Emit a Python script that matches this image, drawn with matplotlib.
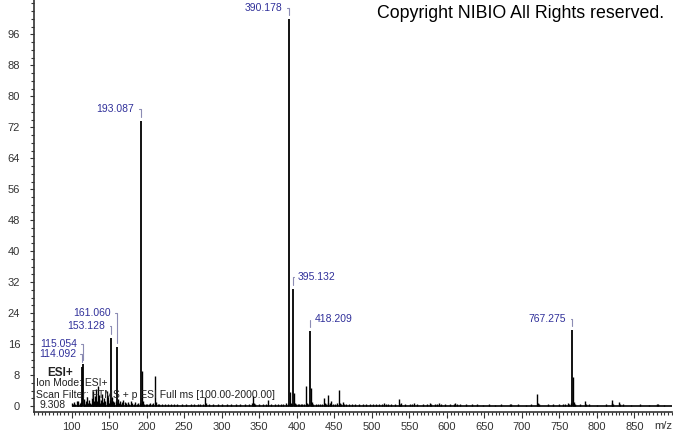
import matplotlib.pyplot as plt
from matplotlib.ticker import MultipleLocator

plt.rcParams['font.family'] = ['Liberation Sans', 'DejaVu Sans']

# labelled peaks (m/z, relative abundance)
label_mz = [114.092, 115.054, 153.128, 161.060, 193.087, 390.178, 395.132, 418.209, 767.275]
label_int = [10.2, 10.8, 17.5, 15.3, 73.6, 100.0, 30.2, 19.4, 19.6]
label_txt = ['114.092', '115.054', '153.128', '161.060', '193.087', '390.178', '395.132', '418.209', '767.275']

# unlabelled peaks
peak_mz = [101.1, 102.5, 103.9, 105.1, 107.0, 108.2, 109.1, 111.0, 112.1, 113.0,
           116.1, 117.0, 118.1, 119.0, 121.1, 122.0, 123.0, 125.1, 126.0, 127.1,
           128.0, 129.1, 130.1, 131.0, 132.1, 133.1, 134.0, 135.1, 136.0, 137.1,
           138.0, 139.1, 141.0, 142.1, 143.1, 144.0, 145.1, 147.1, 148.0, 149.1,
           150.0, 151.1, 152.1, 154.1, 155.1, 156.0, 157.1, 159.1, 160.0, 162.1,
           163.1, 165.1, 166.0, 167.1, 169.1, 171.1, 172.0, 173.1, 175.1, 177.1,
           179.1, 181.1, 183.1, 185.1, 187.1, 189.1, 191.1, 192.0, 194.09, 195.1,
           197.1, 199.1, 201.1, 203.1, 205.1, 207.1, 209.1, 211.2, 212.2, 215.1,
           217.1, 221.1, 225.1, 229.1, 233.1, 237.1, 241.1, 247.1, 253.1, 259.1,
           263.1, 269.1, 271.1, 275.1, 278.1, 279.1, 283.1, 289.1, 295.1, 301.1,
           307.1, 313.1, 319.1, 325.1, 331.1, 337.1, 341.1, 342.2, 343.2, 345.1,
           349.1, 355.1, 359.1, 362.1, 365.1, 371.1, 375.1, 379.1, 382.1, 386.1,
           388.1, 391.18, 392.2, 393.1, 396.13, 397.1, 399.1, 401.1, 403.1, 405.1,
           407.1, 409.1, 412.2, 413.2, 415.1, 419.21, 420.2, 422.1, 425.1, 428.1,
           431.1, 433.1, 436.1, 437.1, 439.1, 441.1, 442.1, 444.1, 446.1, 448.1,
           451.1, 453.1, 456.2, 457.2, 459.1, 461.1, 463.1, 466.0, 470.0, 474.0,
           478.0, 483.0, 488.0, 492.0, 497.0, 501.0, 505.0, 509.0, 513.0, 516.0,
           519.0, 522.0, 526.0, 531.0, 536.2, 537.2, 539.2, 544.0, 551.0, 554.0,
           556.0, 560.0, 568.0, 574.0, 577.0, 579.0, 584.0, 587.0, 589.0, 592.0,
           598.0, 604.0, 609.0, 611.0, 614.0, 618.0, 625.0, 633.0, 640.0, 648.0,
           656.0, 664.0, 672.0, 684.0, 685.5, 695.0, 705.0, 712.0, 720.5, 721.5,
           723.0, 735.0, 742.0, 749.0, 755.0, 758.0, 761.0, 763.0, 765.0, 768.28,
           769.28, 771.0, 777.0, 784.0, 785.0, 790.0, 800.0, 812.0, 819.6, 820.6,
           822.0, 829.5, 831.0, 835.0, 845.0, 857.0, 870.0, 880.0, 881.0, 890.0]
peak_int = [0.7, 0.4, 1.0, 0.5, 1.2, 0.5, 1.4, 0.8, 0.6, 1.0,
            0.9, 1.8, 0.6, 1.2, 2.2, 0.8, 1.5, 0.9, 0.5, 2.0,
            1.0, 3.8, 1.2, 2.6, 0.8, 4.5, 1.3, 5.2, 1.7, 2.8,
            0.8, 1.6, 3.2, 1.0, 2.1, 0.7, 1.3, 3.8, 0.9, 2.4,
            0.8, 1.6, 1.0, 2.2, 1.2, 0.6, 1.0, 1.4, 0.7, 1.8,
            0.8, 1.4, 0.5, 1.0, 1.6, 1.1, 0.5, 0.8, 1.0, 0.6,
            1.2, 0.8, 0.5, 1.0, 0.5, 0.7, 0.9, 0.5, 9.1, 1.2,
            0.6, 0.5, 0.6, 0.4, 0.7, 0.5, 0.9, 7.8, 1.0, 0.6,
            0.4, 0.5, 0.4, 0.6, 0.4, 0.5, 0.4, 0.5, 0.4, 0.5,
            0.4, 0.4, 0.6, 0.4, 2.4, 0.7, 0.4, 0.4, 0.4, 0.4,
            0.4, 0.4, 0.5, 0.4, 0.4, 0.5, 0.8, 2.5, 0.9, 0.6,
            0.4, 0.4, 0.5, 1.5, 0.4, 0.4, 0.4, 0.4, 0.5, 0.7,
            0.6, 3.7, 0.8, 0.5, 3.3, 0.7, 0.5, 0.4, 0.6, 0.4,
            0.5, 0.4, 5.2, 0.9, 0.5, 4.6, 1.1, 0.5, 0.4, 0.6,
            0.4, 0.5, 2.1, 0.7, 0.4, 2.8, 0.9, 0.8, 1.3, 0.4,
            0.5, 0.7, 4.1, 0.9, 0.5, 1.1, 0.6, 0.4, 0.4, 0.4,
            0.5, 0.4, 0.4, 0.4, 0.4, 0.4, 0.5, 0.4, 0.6, 0.7,
            0.5, 0.4, 0.4, 0.4, 1.7, 0.6, 0.9, 0.4, 0.4, 0.5,
            0.7, 0.4, 0.4, 0.4, 0.7, 0.5, 0.4, 0.5, 0.8, 0.4,
            0.4, 0.4, 0.4, 0.9, 0.5, 0.6, 0.4, 0.4, 0.4, 0.3,
            0.4, 0.3, 0.4, 0.5, 0.5, 0.4, 0.3, 0.4, 3.1, 0.8,
            0.4, 0.4, 0.4, 0.4, 0.5, 0.4, 0.7, 0.5, 0.8, 7.4,
            1.0, 0.4, 0.4, 1.2, 0.5, 0.4, 0.3, 0.4, 1.5, 0.7,
            0.4, 1.1, 0.5, 0.4, 0.3, 0.4, 0.3, 0.5, 0.4, 0.3]

scan_start, scan_end = 100, 900
x_ticks = list(range(100, 851, 50))
y_ticks = list(range(0, 97, 8))

# label placement, pixel offset of text from peak top
label_dx = [-6, -6, -6, -7, -7, -7, 5, 4, -6]
label_dy = [13, 20, 12, 34, 12, 10.5, 12, 12, 11.5]

W, H = 673, 433
fig = plt.figure(figsize=(W / 100, H / 100), dpi=100)
ax = fig.add_axes([34 / W, 21 / H, 638 / W, 412 / H])

ax.hlines(0, scan_start, scan_end, colors='black', lw=1.2)
ax.vlines(peak_mz, 0, peak_int, colors='black', lw=1.0)
ax.vlines(label_mz, 0, label_int, colors='black', lw=1.3)

for mz, it, txt, dx, dy in zip(label_mz, label_int, label_txt, label_dx, label_dy):
    left = dx < 0
    ax.annotate(txt, xy=(mz, it), xytext=(dx, dy), textcoords='offset pixels',
                ha='right' if left else 'left', va='center', fontsize=7.5,
                color='#30309a',
                arrowprops=dict(arrowstyle='-', color='#8c8cb4', lw=0.8,
                                connectionstyle='angle,angleA=0,angleB=90,rad=0',
                                relpos=(1, 0.5) if left else (0, 0.5),
                                shrinkA=1, shrinkB=3))

ax.set_xlim(50, 900)
ax.set_ylim(-1.55, 104.9)
ax.set_xticks(x_ticks)
ax.set_yticks(y_ticks)
ax.xaxis.set_minor_locator(MultipleLocator(5))
ax.yaxis.set_minor_locator(MultipleLocator(2))
for s in ['top', 'right']:
    ax.spines[s].set_visible(False)
for s in ['left', 'bottom']:
    ax.spines[s].set_color('#333333')
    ax.spines[s].set_linewidth(1.2)
ax.tick_params(axis='x', which='major', length=4, width=0.8, pad=3,
               labelsize=8, colors='#333333')
ax.tick_params(axis='x', which='minor', length=2.5, width=0.8, colors='#333333')
ax.tick_params(axis='y', which='major', length=3, width=0.8, pad=7,
               labelsize=8, colors='#333333')
ax.tick_params(axis='y', which='minor', length=2.5, width=0.8, colors='#333333')

ax.text((663 - 34) / 638, -14 / 412, 'm/z', transform=ax.transAxes,
        ha='center', va='center', fontsize=8, color='#333333')

fig.text(521 / W, 1 - 14 / H, 'Copyright NIBIO All Rights reserved.',
         ha='center', va='center', fontsize=12.8, color='black')
fig.text(47 / W, 1 - 373 / H, 'ESI+', ha='left', va='center',
         fontsize=8.5, fontweight='bold', color='#222222')
fig.text(36 / W, 1 - 382.5 / H, 'Ion Mode: ESI+', ha='left', va='center',
         fontsize=7.5, color='#222222')
fig.text(36 / W, 1 - 395 / H, 'Scan Filter: FTMS + p ESI Full ms [100.00-2000.00]',
         ha='left', va='center', fontsize=7.5, color='#222222')
fig.text(40 / W, 1 - 405.5 / H, '9.308', ha='left', va='center',
         fontsize=7.5, color='#222222')

fig.savefig('out.png', dpi=100)
